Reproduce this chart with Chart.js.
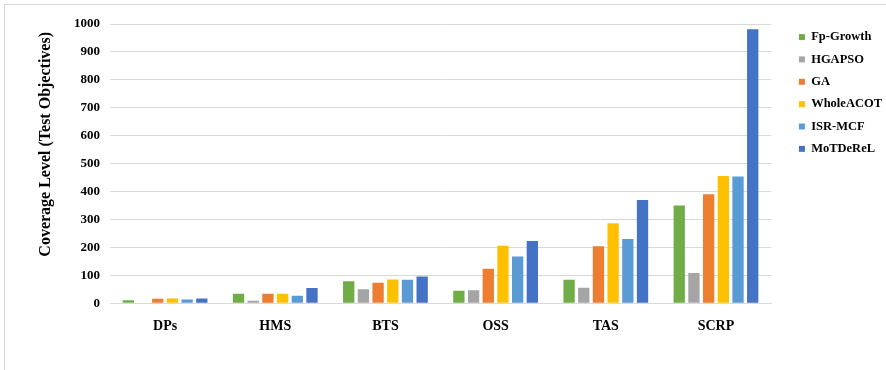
<!DOCTYPE html>
<html>
<head>
<meta charset="utf-8">
<title>Coverage Level</title>
<script src="https://cdn.jsdelivr.net/npm/chart.js@4"></script>
<style>
    html, body { margin: 0; padding: 0; background: #fff; }
    body { width: 886px; height: 370px; position: relative; overflow: hidden; }
    .frame {
        position: absolute; left: 4px; top: 4px; width: 900px; height: 400px;
        border-left: 1px solid #d9d9d9; border-top: 1px solid #d9d9d9;
    }
    #chartWrap { position: absolute; left: 0; top: 0; width: 892px; height: 370px; }
</style>
</head>
<body>
<div class="frame"></div>
<div id="chartWrap"><canvas id="coverageChart"></canvas></div>
<script>
// Coverage level per subject program and technique
const categories = ['DPs', 'HMS', 'BTS', 'OSS', 'TAS', 'SCRP'];
const seriesNames = ['Fp-Growth', 'HGAPSO', 'GA', 'WholeACOT', 'ISR-MCF', 'MoTDeReL'];
const seriesColors = ['#70ad47', '#a5a5a5', '#ed7d31', '#ffc000', '#5b9bd5', '#4472c4'];

const fpGrowth  = [11, 34, 79, 45, 84, 350];
const hgapso    = [2, 9, 50, 46, 55, 108];
const ga        = [16, 34, 73, 123, 204, 390];
const wholeAcot = [17, 34, 85, 206, 286, 456];
const isrMcf    = [13, 27, 84, 167, 230, 454];
const moTDeReL  = [17, 54, 96, 223, 370, 981];

const yTicks = [0, 100, 200, 300, 400, 500, 600, 700, 800, 900, 1000];

const seriesValues = [fpGrowth, hgapso, ga, wholeAcot, isrMcf, moTDeReL];
const serif = "'Liberation Serif', 'Times New Roman', serif";

const datasets = seriesNames.map((name, i) => ({
    label: name,
    data: seriesValues[i],
    backgroundColor: seriesColors[i],
    borderWidth: 0,
    categoryPercentage: 0.8,
    barPercentage: 0.77
}));

new Chart(document.getElementById('coverageChart'), {
    type: 'bar',
    data: { labels: categories, datasets: datasets },
    options: {
        responsive: true,
        maintainAspectRatio: false,
        animation: false,
        layout: { padding: { top: 21, right: 0, bottom: 20, left: 0 } },
        plugins: {
            tooltip: { enabled: false },
            legend: {
                position: 'right',
                align: 'start',
                labels: {
                    boxWidth: 6,
                    boxHeight: 6,
                    padding: 9.85,
                    color: '#000',
                    font: { family: serif, size: 12.5, weight: 'bold' }
                }
            }
        },
        scales: {
            x: {
                grid: { display: false, drawTicks: false },
                border: { display: true, color: '#d9d9d9', width: 1 },
                ticks: {
                    padding: 15,
                    color: '#000',
                    font: { family: serif, size: 14, weight: 'bold' }
                }
            },
            y: {
                min: 0,
                max: 1000,
                afterFit: (scale) => { scale.width = 110; },
                afterBuildTicks: (scale) => {
                    scale.ticks = yTicks.map(v => ({ value: v }));
                },
                grid: { color: '#d9d9d9', lineWidth: 1, drawTicks: false },
                border: { display: false },
                ticks: {
                    padding: 10,
                    color: '#000',
                    font: { family: serif, size: 13, weight: 'bold' },
                    callback: (value) => String(value)
                },
                title: {
                    display: true,
                    text: 'Coverage Level (Test Objectives)  ',
                    align: 'end',
                    color: '#000',
                    padding: { top: 36, bottom: 0 },
                    font: { family: serif, size: 16, weight: 'bold' }
                }
            },
            // empty spacer axes keep the plot clear of the legend and top edge
            topGap: {
                type: 'linear',
                position: 'top',
                afterFit: (scale) => { scale.height = 3; },
                grid: { display: false },
                border: { display: false },
                ticks: { display: false }
            },
            rightGap: {
                type: 'linear',
                position: 'right',
                afterFit: (scale) => { scale.width = 18; },
                grid: { display: false },
                border: { display: false },
                ticks: { display: false }
            }
        }
    }
});
</script>
</body>
</html>
